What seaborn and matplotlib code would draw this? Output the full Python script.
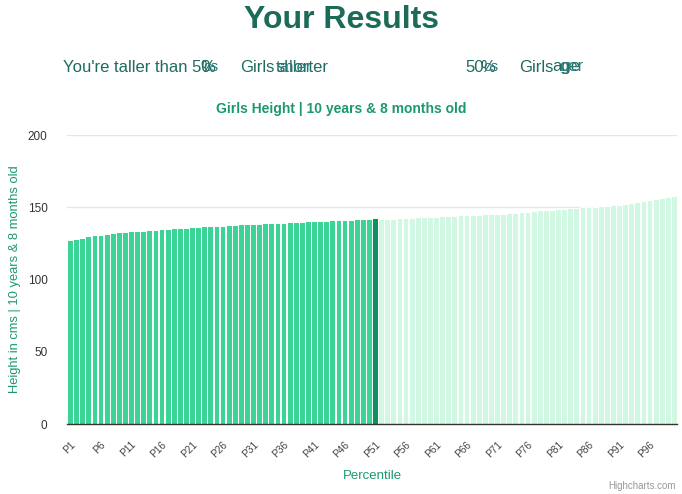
import numpy as np
import seaborn as sns
import matplotlib.pyplot as plt

# percentile heights (cm), girls 10 years & 8 months
percentiles = ["P%d" % i for i in range(1, 101)]
heights = [
    127.0, 127.9, 128.6, 130.0, 130.6, 130.6, 131.3, 132.0, 132.7, 132.7,
    133.4, 133.4, 133.4, 134.1, 134.1, 134.8, 134.8, 135.5, 135.5, 135.5,
    136.2, 136.2, 136.9, 136.9, 136.9, 137.3, 137.6, 137.6, 138.2, 138.2,
    138.2, 138.2, 138.9, 138.9, 138.9, 138.9, 139.6, 139.6, 139.6, 140.3,
    140.3, 140.3, 140.3, 141.0, 141.0, 141.0, 141.0, 141.7, 141.7, 141.7,
    142.4, 142.2, 142.2, 142.2, 142.9, 142.9, 142.9, 143.5, 143.5, 143.5,
    143.5, 144.2, 144.2, 144.2, 144.9, 144.9, 144.9, 144.9, 145.6, 145.6,
    145.6, 145.6, 146.3, 146.3, 146.8, 146.8, 147.2, 147.9, 147.9, 147.9,
    148.6, 148.6, 149.3, 149.3, 150.0, 150.0, 150.0, 150.7, 150.7, 151.4,
    151.4, 152.1, 152.8, 153.5, 154.1, 154.8, 155.5, 156.2, 156.9, 157.6,
]
your_percentile = "P51"
tick_labels = percentiles[::5]
y_ticks = [0, 50, 100, 150, 200]

below_col = "#3bd496"
you_col = "#0d9160"
above_col = "#d0f8e3"
text_green = "#1a9a6a"
title_col = "#1b6b58"

you_idx = percentiles.index(your_percentile)
colors = [below_col if i < you_idx else (you_col if i == you_idx else above_col)
          for i in range(len(percentiles))]

sns.set_style("white")
plt.rcParams['font.family'] = ['Liberation Sans', 'DejaVu Sans']

fig = plt.figure(figsize=(6.82, 4.94), dpi=100)
ax = fig.add_axes([67 / 682, 1 - 424 / 494, 610 / 682, 289 / 494])

sns.barplot(x=percentiles, y=heights, hue=percentiles, palette=colors,
            legend=False, width=0.95, saturation=1, linewidth=0.7,
            edgecolor="white", ax=ax)

ax.set_ylim(0, 200)
ax.set_xlim(-0.5, len(percentiles) - 0.5)
ax.set_yticks(y_ticks)
ax.set_yticklabels([str(v) for v in y_ticks], fontsize=8.5, color="#333333")
ax.tick_params(axis="y", length=0, pad=14)
ax.set_xticks(range(0, len(percentiles), 5))
ax.set_xticklabels(tick_labels, rotation=45, ha="right", rotation_mode="anchor",
                   fontsize=7.3, color="#444444")
ax.tick_params(axis="x", length=0, pad=11)
ax.yaxis.grid(True, color="#e6e6e6", linewidth=1)
ax.set_axisbelow(True)
for s in ["top", "right", "left"]:
    ax.spines[s].set_visible(False)
ax.spines["bottom"].set_color("#333333")
ax.spines["bottom"].set_linewidth(1)
ax.spines["bottom"].set_zorder(5)

ax.set_xlabel("Percentile", fontsize=9.5, color=text_green, labelpad=8)
ax.set_ylabel("Height in cms | 10 years & 8 months old", fontsize=9.3,
              color=text_green, labelpad=5)

# header
fig.text(341 / 682, 1 - 20 / 494, "Your Results", ha="center", va="center",
         fontsize=23, fontweight="bold", color=title_col)
hy = 1 - 67 / 494
hc = "#1f6b5e"
alt = "#2a7a7a"
fig.text(63 / 682, hy, "You're taller than 50", ha="left", va="center", fontsize=12, color=hc)
fig.text(200 / 682, hy, "%", ha="left", va="center", fontsize=12, color=hc)
fig.text(203 / 682, hy, "cs", ha="left", va="center", fontsize=11, color=alt)
fig.text(240 / 682, hy, "Girls", ha="left", va="center", fontsize=12, color=hc)
fig.text(277 / 682, hy, "shorter", ha="left", va="center", fontsize=12, color=hc)
fig.text(276 / 682, hy, "taller", ha="left", va="center", fontsize=12, color=alt)
fig.text(465 / 682, hy, "50", ha="left", va="center", fontsize=12, color=hc)
fig.text(480 / 682, hy, "%", ha="left", va="center", fontsize=12, color=hc)
fig.text(483 / 682, hy, "cs", ha="left", va="center", fontsize=11, color=alt)
fig.text(519 / 682, hy, "Girls", ha="left", va="center", fontsize=12, color=hc)
fig.text(552 / 682, hy, "age", ha="left", va="center", fontsize=12, color=hc)
fig.text(559 / 682, hy, "ger", ha="left", va="center", fontsize=12, color=alt)

fig.text(341 / 682, 1 - 109 / 494, "Girls Height | 10 years & 8 months old",
         ha="center", va="center", fontsize=10, fontweight="bold", color=text_green)
fig.text(676 / 682, 1 - 486 / 494, "Highcharts.com", ha="right", va="center",
         fontsize=7, color="#999999")

fig.savefig("out.png", dpi=100)
